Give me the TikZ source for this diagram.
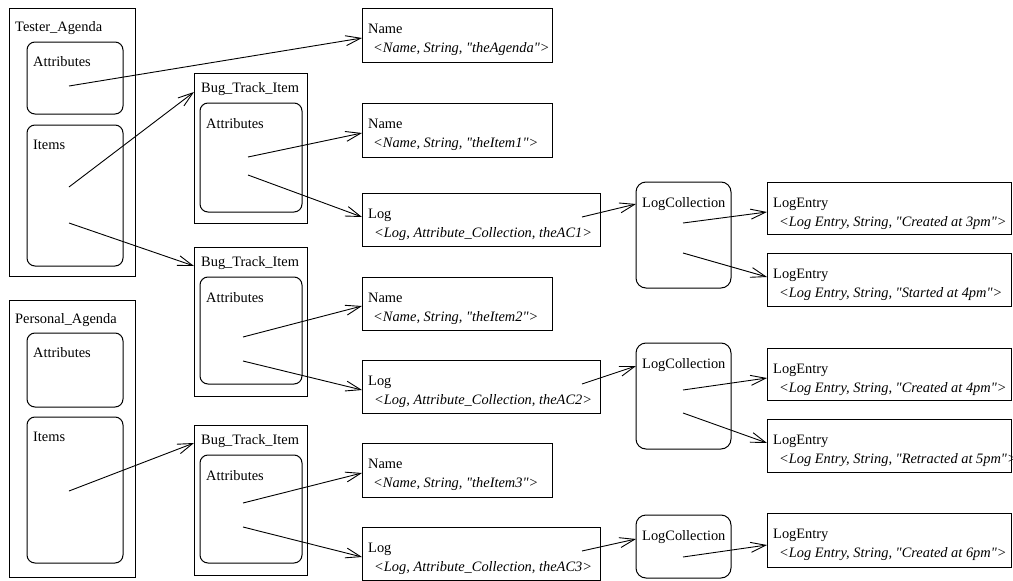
\documentclass[tikz,border=0pt]{standalone}
\usepackage{fontspec}
% plain family: no TeX ligature mapping, so " stays a straight quote
\newfontfamily\diagfont{Liberation Serif}
\usetikzlibrary{arrows.meta}
\tikzset{
  box/.style={draw, line width=1pt, anchor=north west, inner sep=0pt, outer sep=0pt},
  rbox/.style={box, rounded corners=8pt},
  lbl/.style={anchor=base west, inner sep=0pt, font=\diagfont\fontsize{14.4}{16}\selectfont},
  val/.style={lbl, font=\diagfont\fontsize{14.4}{16}\selectfont\itshape},
  arr/.style={line width=0.9pt, -{Straight Barb[length=15pt, width=10pt, line width=0.9pt]}},
}
\begin{document}
\begin{tikzpicture}[x=1pt, y=-1pt]
\useasboundingbox (0,0) rectangle (1013,581);

% ---- agendas ----
\node[box, minimum width=126pt, minimum height=268pt] (TA) at (9,8) {};
\node[lbl] (TAt) at (15,31) {Tester\_Agenda};
\node[rbox, minimum width=96pt, minimum height=72pt] (TAa) at (27,42) {};
\node[lbl] (TAat) at (33,66) {Attributes};
\node[rbox, minimum width=96pt, minimum height=141pt] (TAi) at (27,125) {};
\node[lbl] (TAit) at (33,149) {Items};

\node[box, minimum width=126pt, minimum height=277pt] (PA) at (9,300) {};
\node[lbl] (PAt) at (15,323) {Personal\_Agenda};
\node[rbox, minimum width=96pt, minimum height=74pt] (PAa) at (27,333) {};
\node[lbl] (PAat) at (33,357) {Attributes};
\node[rbox, minimum width=96pt, minimum height=146pt] (PAi) at (27,417) {};
\node[lbl] (PAit) at (33,441) {Items};

% ---- bug track items ----
\node[box, minimum width=113pt, minimum height=150pt] (B1) at (194,73) {};
\node[lbl] (B1t) at (201,92) {Bug\_Track\_Item};
\node[rbox, minimum width=102pt, minimum height=109pt] (B1a) at (200,103) {};
\node[lbl] (B1at) at (206,128) {Attributes};

\node[box, minimum width=113pt, minimum height=149pt] (B2) at (194,247) {};
\node[lbl] (B2t) at (201,266) {Bug\_Track\_Item};
\node[rbox, minimum width=102pt, minimum height=107pt] (B2a) at (200,277) {};
\node[lbl] (B2at) at (206,302) {Attributes};

\node[box, minimum width=113pt, minimum height=150pt] (B3) at (194,425) {};
\node[lbl] (B3t) at (201,444) {Bug\_Track\_Item};
\node[rbox, minimum width=102pt, minimum height=108pt] (B3a) at (200,455) {};
\node[lbl] (B3at) at (206,480) {Attributes};

% ---- attribute values ----
\node[box, minimum width=190pt, minimum height=54pt] (N0) at (362,8) {};
\node[lbl] at (368,33) {Name};
\node[val] at (373,52) {<Name, String, "theAgenda">};

\node[box, minimum width=190pt, minimum height=54pt] (N1) at (362,103) {};
\node[lbl] at (368,128) {Name};
\node[val] at (373,147) {<Name, String, "theItem1">};

\node[box, minimum width=238pt, minimum height=53pt] (L1) at (362,193) {};
\node[lbl] at (368,218) {Log};
\node[val] at (374,237) {<Log, Attribute\_Collection, theAC1>};

\node[box, minimum width=190pt, minimum height=53pt] (N2) at (362,277) {};
\node[lbl] at (368,302) {Name};
\node[val] at (373,321) {<Name, String, "theItem2">};

\node[box, minimum width=238pt, minimum height=53pt] (L2) at (362,360) {};
\node[lbl] at (368,385) {Log};
\node[val] at (374,404) {<Log, Attribute\_Collection, theAC2>};

\node[box, minimum width=190pt, minimum height=54pt] (N3) at (362,443) {};
\node[lbl] at (368,468) {Name};
\node[val] at (373,487) {<Name, String, "theItem3">};

\node[box, minimum width=238pt, minimum height=53pt] (L3) at (362,527) {};
\node[lbl] at (368,552) {Log};
\node[val] at (374,571) {<Log, Attribute\_Collection, theAC3>};

% ---- log collections ----
\node[box, rounded corners=10pt, minimum width=95pt, minimum height=106pt] (C1) at (636,182) {};
\node[lbl] at (642,207) {LogCollection};
\node[box, rounded corners=10pt, minimum width=95pt, minimum height=106pt] (C2) at (636,343) {};
\node[lbl] at (642,368) {LogCollection};
\node[box, rounded corners=10pt, minimum width=95pt, minimum height=63pt] (C3) at (636,515) {};
\node[lbl] at (642,540) {LogCollection};

% ---- log entries ----
\node[box, minimum width=244pt, minimum height=52pt] (E1) at (767,182) {};
\node[lbl] at (773,207) {LogEntry};
\node[val] at (779,226) {<Log Entry, String, "Created at 3pm">};
\node[box, minimum width=244pt, minimum height=53pt] (E2) at (767,253) {};
\node[lbl] at (773,278) {LogEntry};
\node[val] at (779,297) {<Log Entry, String, "Started at 4pm">};
\node[box, minimum width=244pt, minimum height=52pt] (E3) at (767,348) {};
\node[lbl] at (773,373) {LogEntry};
\node[val] at (779,392) {<Log Entry, String, "Created at 4pm">};
\node[box, minimum width=244pt, minimum height=53pt] (E4) at (767,419) {};
\node[lbl] at (773,444) {LogEntry};
\node[val] at (779,463) {<Log Entry, String, "Retracted at 5pm">};
\node[box, minimum width=244pt, minimum height=54pt] (E5) at (767,513) {};
\node[lbl] at (773,538) {LogEntry};
\node[val] at (779,557) {<Log Entry, String, "Created at 6pm">};

% ---- connector start points ----
\coordinate (sTAa) at (69,86);
\coordinate (sTAi1) at (69,187);
\coordinate (sTAi2) at (69,223);
\coordinate (sPAi) at (69,491);
\coordinate (sB1n) at (248,157);
\coordinate (sB1l) at (248,175);
\coordinate (sB2n) at (243,337);
\coordinate (sB2l) at (243,361);
\coordinate (sB3n) at (243,503);
\coordinate (sB3l) at (243,527);
\coordinate (sL1) at (582,217);
\coordinate (sL2) at (582,384);
\coordinate (sL3) at (582,551);
\coordinate (sC1a) at (683,223);
\coordinate (sC1b) at (683,253);
\coordinate (sC2a) at (683,390);
\coordinate (sC2b) at (683,413);
\coordinate (sC3) at (683,557);

% ---- connectors ----
\draw[arr] (sTAa)  -- ([yshift=-30pt]N0.north west);
\draw[arr] (sTAi1) -- ([yshift=-19pt]B1.north west);
\draw[arr] (sTAi2) -- ([yshift=-19pt]B2.north west);
\draw[arr] (sPAi)  -- ([yshift=-18pt]B3.north west);
\draw[arr] (sB1n)  -- ([yshift=-30pt]N1.north west);
\draw[arr] (sB1l)  -- ([yshift=-24pt]L1.north west);
\draw[arr] (sB2n)  -- ([yshift=-29pt]N2.north west);
\draw[arr] (sB2l)  -- ([yshift=-30pt]L2.north west);
\draw[arr] (sB3n)  -- ([yshift=-30pt]N3.north west);
\draw[arr] (sB3l)  -- ([yshift=-30pt]L3.north west);
\draw[arr] (sL1)   -- ([yshift=-22pt]C1.north west);
\draw[arr] (sL2)   -- ([yshift=-23pt]C2.north west);
\draw[arr] (sL3)   -- ([yshift=-24pt]C3.north west);
\draw[arr] (sC1a)  -- ([yshift=-30pt]E1.north west);
\draw[arr] (sC1b)  -- ([yshift=-24pt]E2.north west);
\draw[arr] (sC2a)  -- ([yshift=-30pt]E3.north west);
\draw[arr] (sC2b)  -- ([yshift=-24pt]E4.north west);
\draw[arr] (sC3)   -- ([yshift=-32pt]E5.north west);
\end{tikzpicture}
\end{document}
